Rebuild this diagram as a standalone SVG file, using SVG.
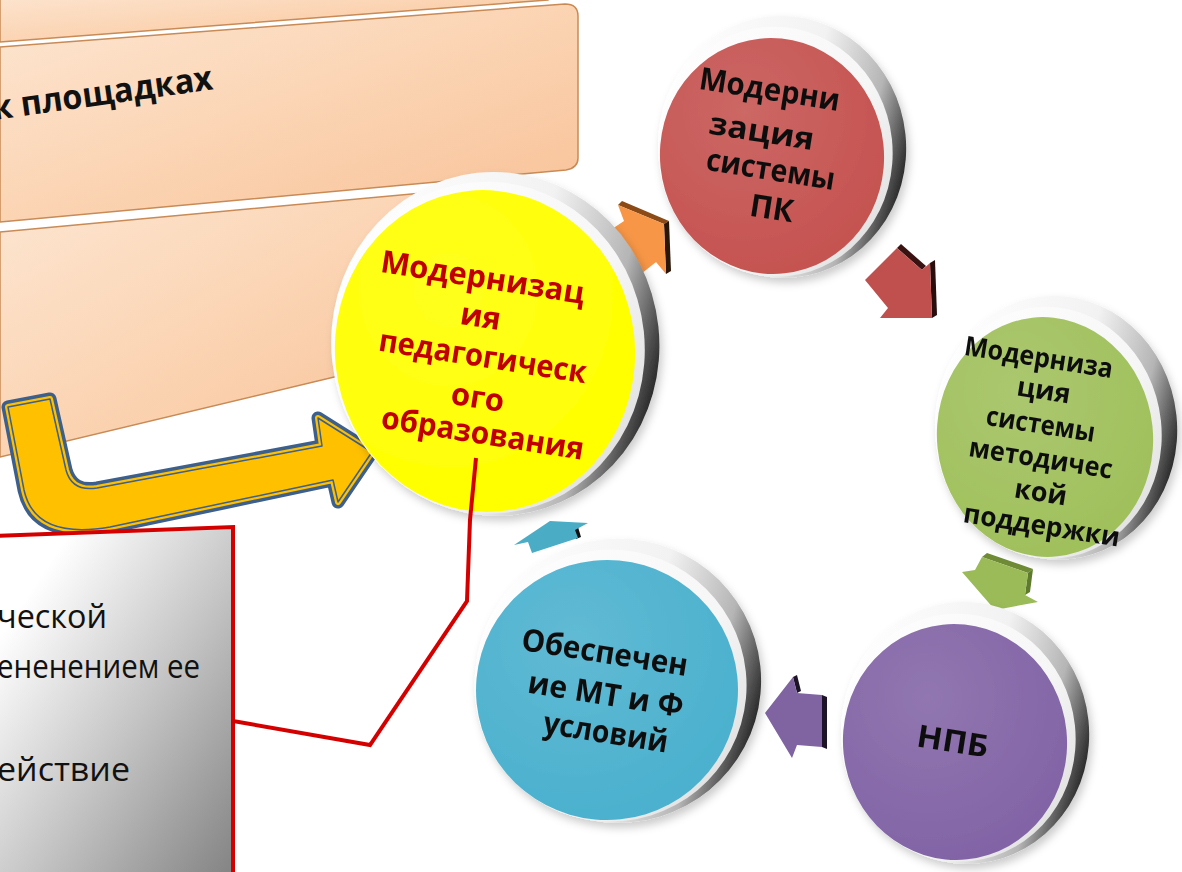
<svg xmlns="http://www.w3.org/2000/svg" width="1182" height="872" viewBox="0 0 1182 872">
<defs>
<style>
.b{font-family:"Open Sans","Noto Sans","DejaVu Sans",sans-serif;font-weight:bold;text-anchor:middle;dominant-baseline:central}
.dk{fill:#111}
.yl{fill:#C00000}
.cap{font-family:"Open Sans","Noto Sans","DejaVu Sans",sans-serif;font-size:32px;fill:#111}
.panel{fill:url(#peach);stroke:#C98A55;stroke-width:1.5}
</style>
<linearGradient id="peach" x1="0" y1="0" x2="1" y2="1">
<stop offset="0" stop-color="#FDE6D2"/><stop offset="0.5" stop-color="#FBD4B3"/><stop offset="1" stop-color="#F8C197"/>
</linearGradient>
<linearGradient id="grey" x1="0.1" y1="0.05" x2="1" y2="0.95">
<stop offset="0.1" stop-color="#FFFFFF"/><stop offset="0.55" stop-color="#C4C4C4"/><stop offset="1" stop-color="#868686"/>
</linearGradient>
<linearGradient id="rim" x1="0" y1="0.3" x2="1" y2="0.7">
<stop offset="0" stop-color="#FFFFFF"/><stop offset="0.55" stop-color="#F2F2F2"/><stop offset="0.8" stop-color="#B5B5B5"/><stop offset="0.92" stop-color="#505050"/><stop offset="1" stop-color="#0E0E0E"/>
</linearGradient>
<linearGradient id="ring" x1="0" y1="0" x2="1" y2="1">
<stop offset="0" stop-color="#FFFFFF"/><stop offset="0.6" stop-color="#F6F6F6"/><stop offset="1" stop-color="#D8D8D8"/>
</linearGradient>
<radialGradient id="gloss" cx="0.4" cy="0.3" r="0.7">
<stop offset="0" stop-color="#FFFFFF" stop-opacity="0.12"/><stop offset="1" stop-color="#FFFFFF" stop-opacity="0"/>
</radialGradient>
<filter id="sh" x="-20%" y="-20%" width="140%" height="140%">
<feDropShadow dx="3" dy="5" stdDeviation="4" flood-color="#000" flood-opacity="0.2"/>
</filter>
</defs>
<rect width="1182" height="872" fill="#FFFFFF"/>

<g id="panel-top">
<path class="panel" d="M0,-10 L560,-10 L548,0 L0,42 Z"/>
</g>
<g id="panel-2">
<path class="panel" d="M0,47 L565,4 Q578,4 578,16 L578,158 Q578,168 566,170 L0,222 Z"/>
<text x="0" y="0" transform="translate(-6,120) rotate(-8)" style="font-family:'Open Sans','Noto Sans',sans-serif;font-weight:bold;font-size:34px;fill:#111" textLength="222" lengthAdjust="spacingAndGlyphs">к площадках</text>
</g>
<g id="panel-3">
<path class="panel" d="M0,232 L455,190 L462,198 L462,340 L455,348 L0,457 Z"/>
</g>

<g id="bent-arrow">
<path d="M8,407 L50,399 L66,470 Q72,492 97,488 L322,446 L318,418 L372,452 L338,502 L333,480 L110,527 Q35,540 24,490 Z" fill="none" stroke="#3D5F8C" stroke-width="13" stroke-linejoin="round"/>
<path d="M8,407 L50,399 L66,470 Q72,492 97,488 L322,446 L318,418 L372,452 L338,502 L333,480 L110,527 Q35,540 24,490 Z" fill="#FFC000" stroke="#FFC000" stroke-width="6" stroke-linejoin="round"/>
<path d="M8,407 L50,399 L66,470 Q72,492 97,488 L322,446 L318,418 L372,452 L338,502 L333,480 L110,527 Q35,540 24,490 Z" fill="none" stroke="#3D5F8C" stroke-width="1.5" stroke-linejoin="round"/>
</g>

<g id="callout">
<path d="M-5,536 L233,527 L233,880 L-5,880 Z" fill="url(#grey)" stroke="#D40000" stroke-width="4"/>
<text class="cap" x="-3" y="628" textLength="110" lengthAdjust="spacingAndGlyphs">ческой</text>
<text class="cap" x="-3" y="678" textLength="203" lengthAdjust="spacingAndGlyphs">ененением ее</text>
<text class="cap" x="-3" y="781" textLength="133" lengthAdjust="spacingAndGlyphs">ействие</text>
</g>

<g id="connectors">
<g id="arrow-orange">
<polygon points="618,205 622,201 669,221 664,224" fill="#8B4A16"/>
<polygon points="664,224 669,221 671,271 666,274" fill="#2A1608"/>
<polygon points="606,233 624,221 618,205 664,224 666,274 656,262 636,278" fill="#F79646"/>
</g>
<g id="arrow-red">
<polygon points="897,248 901,244 926,266 922,270" fill="#3A1212"/>
<polygon points="930,263 935,260 937,315 932,318" fill="#2A0E0E"/>
<polygon points="865,280 897,248 922,270 930,263 932,318 880,318 888,308" fill="#C0504D"/>
</g>
<g id="arrow-green">
<polygon points="982,557 987,553 1033,569 1028,573" fill="#6F8B35"/>
<polygon points="1028,573 1033,569 1030,592 1025,595" fill="#5E7A2C"/>
<polygon points="962,572 975,570 982,557 1028,573 1025,595 1038,602 995,610" fill="#9BBB59"/>
</g>
<g id="arrow-purple">
<polygon points="822,695 827,697 827,749 822,747" fill="#1E1428"/>
<polygon points="793,677 797,675 801,691 797,693" fill="#1E1428"/>
<polygon points="765,713 793,677 797,693 822,695 822,747 797,745 792,758" fill="#8064A2"/>
</g>
<g id="arrow-blue">
<polygon points="572,529 578,527 581,537 576,539" fill="#111"/>
<polygon points="514,545 550,521 588,523 575,530 578,538 532,553 528,542" fill="#4BACC6"/>
</g>
</g>

<g id="node-yellow" filter="url(#sh)">
<g transform="translate(485,351) rotate(-6)">
<ellipse cx="11" cy="-6" rx="164" ry="172" fill="url(#rim)"/>
<ellipse cx="4" cy="-3" rx="156" ry="166" fill="url(#ring)"/>
<ellipse cx="0" cy="0" rx="150" ry="161" fill="#FFFF00"/>
<ellipse cx="0" cy="0" rx="150" ry="161" fill="url(#gloss)"/>
</g>
<g class="b yl" font-size="31">
<text x="483" y="276" transform="rotate(9 483 276)" textLength="206" lengthAdjust="spacingAndGlyphs">Модернизац</text>
<text x="481" y="315" transform="rotate(9 481 315)">ия</text>
<text x="483" y="355" transform="rotate(9 483 355)" textLength="210" lengthAdjust="spacingAndGlyphs">педагогическ</text>
<text x="478" y="396" transform="rotate(9 478 396)">ого</text>
<text x="483" y="432" transform="rotate(9 483 432)" textLength="205" lengthAdjust="spacingAndGlyphs">образования</text>
</g>
</g>

<g id="node-red" filter="url(#sh)">
<g transform="translate(772,156) rotate(-6)">
<ellipse cx="11" cy="-8" rx="124" ry="131" fill="url(#rim)"/>
<ellipse cx="4" cy="-4" rx="117" ry="125" fill="url(#ring)"/>
<ellipse cx="0" cy="0" rx="112" ry="118" fill="#C55350"/>
<ellipse cx="0" cy="0" rx="112" ry="118" fill="url(#gloss)"/>
</g>
<g class="b dk" font-size="31">
<text x="770" y="88" transform="rotate(9 770 88)" textLength="142" lengthAdjust="spacingAndGlyphs">Модерни</text>
<text x="762" y="130" transform="rotate(9 762 130)" textLength="106" lengthAdjust="spacingAndGlyphs">зация</text>
<text x="771" y="168" transform="rotate(9 771 168)" textLength="130" lengthAdjust="spacingAndGlyphs">системы</text>
<text x="772" y="207" transform="rotate(9 772 207)">ПК</text>
</g>
</g>

<g id="node-green" filter="url(#sh)">
<g transform="translate(1045,437) rotate(-6)">
<ellipse cx="12" cy="-8" rx="121" ry="132" fill="url(#rim)"/>
<ellipse cx="4" cy="-4" rx="113" ry="126" fill="url(#ring)"/>
<ellipse cx="0" cy="0" rx="108" ry="120" fill="#A0C05C"/>
<ellipse cx="0" cy="0" rx="108" ry="120" fill="url(#gloss)"/>
</g>
<g class="b dk" font-size="27">
<text x="1039" y="356" transform="rotate(9 1039 356)" textLength="150" lengthAdjust="spacingAndGlyphs">Модерниза</text>
<text x="1044" y="389" transform="rotate(9 1044 389)">ция</text>
<text x="1041" y="423" transform="rotate(9 1041 423)" textLength="110" lengthAdjust="spacingAndGlyphs">системы</text>
<text x="1041" y="457" transform="rotate(9 1041 457)" textLength="145" lengthAdjust="spacingAndGlyphs">методичес</text>
<text x="1041" y="491" transform="rotate(9 1041 491)">кой</text>
<text x="1042" y="524" transform="rotate(9 1042 524)" textLength="158" lengthAdjust="spacingAndGlyphs">поддержки</text>
</g>
</g>

<g id="node-purple" filter="url(#sh)">
<g transform="translate(955,742) rotate(-6)">
<ellipse cx="11" cy="-8" rx="124" ry="131" fill="url(#rim)"/>
<ellipse cx="4" cy="-4" rx="117" ry="124" fill="url(#ring)"/>
<ellipse cx="0" cy="0" rx="112" ry="118" fill="#8264A6"/>
<ellipse cx="0" cy="0" rx="112" ry="118" fill="url(#gloss)"/>
</g>
<text class="b dk" font-size="31" x="953" y="740" transform="rotate(9 953 740)" textLength="72" lengthAdjust="spacingAndGlyphs">НПБ</text>
</g>

<g id="node-blue" filter="url(#sh)">
<g transform="translate(607,690) rotate(-6)">
<ellipse cx="12" cy="-8" rx="143" ry="142" fill="url(#rim)"/>
<ellipse cx="4" cy="-4" rx="136" ry="136" fill="url(#ring)"/>
<ellipse cx="0" cy="0" rx="131" ry="130" fill="#4BB1CE"/>
<ellipse cx="0" cy="0" rx="131" ry="130" fill="url(#gloss)"/>
</g>
<g class="b dk" font-size="31">
<text x="605" y="651" transform="rotate(9 605 651)" textLength="168" lengthAdjust="spacingAndGlyphs">Обеспечен</text>
<text x="606" y="693" transform="rotate(9 606 693)" textLength="157" lengthAdjust="spacingAndGlyphs">ие МТ и Ф</text>
<text x="606" y="731" transform="rotate(9 606 731)" textLength="126" lengthAdjust="spacingAndGlyphs">условий</text>
</g>
</g>

<g id="callout-leader">
<polyline points="233,721 370,745 467,601 470,520 476,458" fill="none" stroke="#D40000" stroke-width="4" stroke-linejoin="miter"/>
</g>
</svg>
